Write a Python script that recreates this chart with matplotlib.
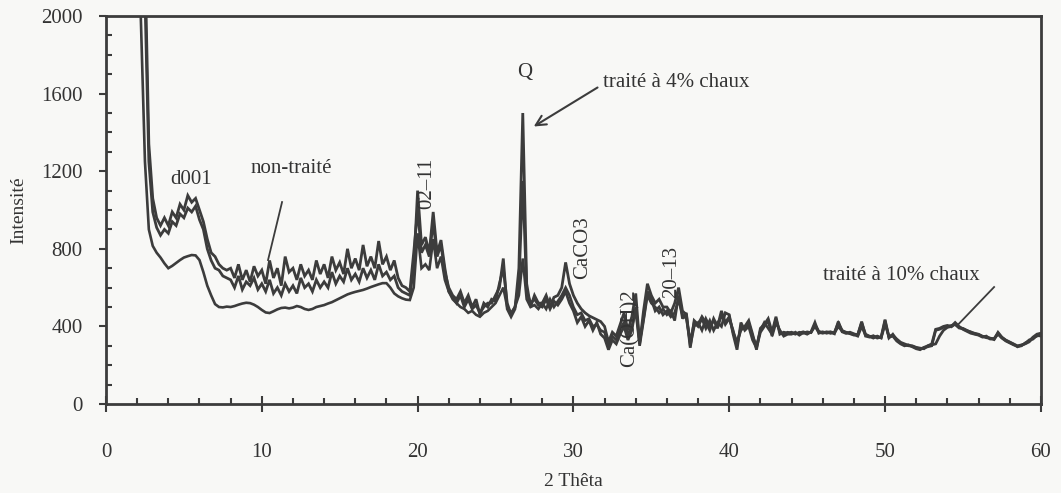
import numpy as np
import matplotlib
matplotlib.use("Agg")
import matplotlib.pyplot as plt
from matplotlib.ticker import MultipleLocator

# 2-theta sampling grid (instrument step 0.25 deg) from 2 to 60
two_theta = np.round(np.arange(2.0, 60.001, 0.25), 2)

non_traite = [
    3200, 2900, 2300, 1340, 1060, 960, 920, 960,
    920, 990, 960, 1030, 1000, 1075, 1040, 1060,
    1000, 940, 850, 780, 760, 720, 700, 690,
    700, 650, 720, 640, 690, 630, 710, 660,
    690, 620, 740, 650, 700, 610, 760, 680,
    700, 640, 720, 660, 690, 640, 740, 670,
    720, 650, 760, 690, 730, 670, 800, 700,
    750, 690, 820, 710, 760, 700, 840, 720,
    760, 690, 740, 650, 610, 600, 580, 780,
    1000, 780, 820, 760, 940, 760, 820, 680,
    600, 560, 540, 580, 520, 560, 500, 540,
    460, 520, 500, 540, 530, 620, 700, 520,
    460, 500, 620, 1150, 580, 520, 540, 510,
    500, 540, 490, 530, 510, 540, 580, 520,
    480, 420, 450, 400, 430, 380, 420, 360,
    340, 280, 330, 310, 360, 400, 330, 380,
    500, 320, 440, 580, 540, 480, 500, 460,
    480, 450, 470, 540, 460, 440, 320, 420,
    400, 440, 390, 430, 380, 420, 400, 470,
    460, 360, 280, 420, 380, 400, 330, 290,
    370, 400, 430, 350, 420, 380, 350, 360,
    360, 370, 355, 368, 360, 372, 420, 365,
    372, 365, 370, 362, 425, 372, 364, 370,
    362, 355, 425, 350, 345, 352, 340, 345,
    435, 345, 350, 325, 310, 300, 305, 295,
    285, 280, 292, 300, 305, 310, 350, 380,
    395, 400, 420, 400, 385, 375, 365, 360,
    355, 345, 350, 335, 338, 360, 340, 325,
    315, 305, 298, 300, 315, 325, 345, 360,
    365,
]

traite_4 = [
    3200, 2800, 2100, 1250, 990, 910, 870, 900,
    880, 940, 920, 980, 960, 1010, 990, 1020,
    950, 900, 800, 740, 700, 690, 660, 650,
    640, 600, 660, 590, 630, 610, 650, 590,
    620, 580, 640, 570, 600, 560, 620, 580,
    610, 570, 650, 600, 620, 580, 640, 600,
    630, 600, 680, 620, 660, 630, 700, 640,
    670, 630, 700, 650, 690, 640, 720, 660,
    680, 640, 660, 600, 580, 570, 560, 700,
    1100, 820, 860, 780, 990, 780, 845, 700,
    580, 550, 520, 560, 500, 540, 490, 510,
    470, 500, 520, 520, 560, 600, 750, 490,
    450, 490, 700, 1500, 620, 500, 560, 520,
    520, 560, 500, 550, 560, 600, 730, 620,
    560, 520, 490, 470, 455, 445, 435, 425,
    400, 320, 370, 350, 410, 470, 380, 450,
    570, 310, 480, 620, 560, 520, 540, 500,
    500, 470, 520, 600, 480, 460, 290, 430,
    410, 450, 420, 380, 440, 400, 480, 420,
    450, 370, 320, 380, 400, 430, 360, 280,
    390, 410, 440, 370, 450, 360, 370, 365,
    370, 362, 366, 372, 365, 370, 400, 370,
    365, 370, 372, 366, 400, 375, 370, 365,
    358, 350, 400, 355, 348, 340, 350, 342,
    410, 350, 355, 335, 318, 310, 302, 300,
    292, 288, 285, 300, 310, 385, 390, 400,
    405, 398, 412, 392, 388, 378, 372, 362,
    358, 348, 342, 338, 332, 365, 342, 328,
    318, 308, 295, 302, 312, 330, 335, 355,
    350,
]

traite_10 = [
    2600, 1950, 1250, 900, 815, 780, 755, 725,
    700, 712, 727, 742, 755, 762, 768, 766,
    742, 680, 610, 560, 515, 500, 498, 502,
    500, 505, 512, 518, 522, 520, 512, 500,
    485, 472, 469, 478, 488, 495, 497, 493,
    497, 505, 500, 490, 485, 490, 500, 505,
    510, 518, 525, 535, 545, 555, 565, 572,
    578, 583, 588, 595, 603, 610, 617, 623,
    623, 600, 570, 555, 545, 538, 536, 600,
    880, 700, 720, 690, 850, 700, 760, 640,
    580, 540, 520, 500, 490, 470, 480, 460,
    450, 470, 480, 500, 520, 560, 600, 500,
    470, 500, 560, 750, 540, 500, 510, 490,
    520, 490, 540, 500, 530, 560, 600, 560,
    500, 460, 470, 430, 440, 400, 410, 380,
    370, 300, 350, 330, 390, 420, 360, 400,
    480, 300, 430, 560, 520, 500, 470, 490,
    460, 480, 430, 560, 440, 470, 300, 400,
    420, 380, 440, 400, 430, 390, 460, 410,
    440, 380, 300, 400, 390, 420, 350, 300,
    380, 420, 390, 360, 440, 370, 360, 370,
    365, 360, 370, 365, 372, 368, 410, 375,
    368, 372, 364, 370, 418, 380, 368, 362,
    355, 360, 420, 360, 350, 345, 348, 340,
    430, 340, 360, 330, 315, 305, 300, 298,
    290, 285, 290, 295, 300, 380, 385, 395,
    400, 405, 410, 395, 390, 380, 370, 365,
    360, 350, 345, 340, 335, 370, 345, 330,
    320, 310, 300, 305, 310, 320, 340, 350,
    355,
]

x_ticks = [0, 10, 20, 30, 40, 50, 60]
y_ticks = [0, 400, 800, 1200, 1600, 2000]

plt.rcParams['font.family'] = ['Liberation Serif', 'DejaVu Serif']

bg = '#f8f8f6'
ink = '#3c3c3c'

fig = plt.figure(figsize=(10.61, 4.93), dpi=100, facecolor=bg)
ax = fig.add_axes([0.0999, 0.1805, 0.8811, 0.787])
ax.set_facecolor(bg)

for ys, lw in ((traite_10, 1.9), (non_traite, 2.0), (traite_4, 2.0)):
    ax.plot(two_theta, ys, color=ink, lw=lw, solid_joinstyle='miter')

ax.set_xlim(0, 60)
ax.set_ylim(0, 2000)
ax.set_xticks(x_ticks)
ax.set_yticks(y_ticks)
ax.xaxis.set_minor_locator(MultipleLocator(2))
ax.yaxis.set_minor_locator(MultipleLocator(100))

for s in ax.spines.values():
    s.set_color(ink)
    s.set_linewidth(2)

ax.tick_params(axis='x', which='major', direction='inout', length=12, width=1.5,
               color=ink, labelsize=15, pad=22, labelcolor='#333333')
ax.tick_params(axis='x', which='minor', direction='in', length=4, width=1.5, color=ink)
ax.tick_params(axis='y', which='major', direction='out', length=5, width=1.5,
               color=ink, labelsize=15, pad=12, labelcolor='#333333')
ax.tick_params(axis='y', which='minor', direction='in', length=4, width=1.5, color=ink)

ax.set_xlabel('2 Thêta', fontsize=14, color='#333333', labelpad=8)
ax.set_ylabel('Intensité', fontsize=14, color='#333333', labelpad=10)

tk = dict(fontsize=15, color='#333333')
ax.text(26.9, 1710, 'Q', ha='center', va='center', **tk)
ax.text(5.45, 1155, 'd001', ha='center', va='center', **tk)
ax.text(11.9, 1216, 'non-traité', ha='center', va='center', **tk)
ax.plot([11.3, 10.4], [1041, 742], color=ink, lw=1.3)
ax.text(31.9, 1655, 'traité à 4% chaux', ha='left', va='center', **tk)
ax.annotate('', xy=(27.3, 1423), xytext=(31.7, 1639),
            arrowprops=dict(arrowstyle='->', color=ink, lw=1.5, mutation_scale=18))
ax.text(20.6, 1139, '02–11', rotation=90, ha='center', va='center', **tk)
ax.text(30.6, 804, 'CaCO3', rotation=90, ha='center', va='center', **tk)
ax.text(33.6, 392, 'Ca(OH)2', rotation=90, ha='center', va='center', **tk)
ax.text(36.3, 680, '20–13', rotation=90, ha='center', va='center', **tk)
ax.text(51.05, 665, 'traité à 10% chaux', ha='center', va='center', **tk)
ax.plot([57.0, 54.6], [603, 402], color=ink, lw=1.3)

fig.savefig('out.png', dpi=100, facecolor=bg)
